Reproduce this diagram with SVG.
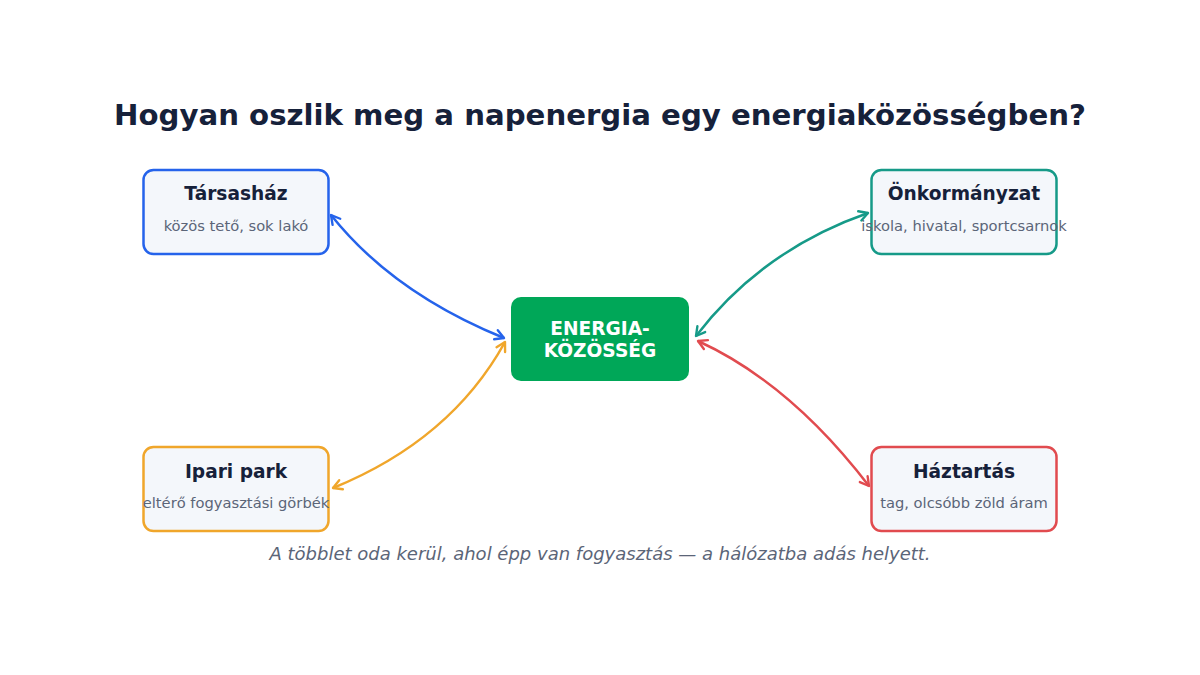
<svg xmlns="http://www.w3.org/2000/svg" width="1200" height="675" viewBox="0 0 1200 675">
<defs>
<style>
.title{font-family:"DejaVu Sans",sans-serif;font-weight:bold;font-size:29.2px;fill:#16213a;text-anchor:middle}
.nt{font-family:"DejaVu Sans",sans-serif;font-weight:bold;font-size:18.6px;fill:#16213a;text-anchor:middle}
.ns{font-family:"DejaVu Sans",sans-serif;font-size:14.7px;fill:#5b6578;text-anchor:middle}
.ct{font-family:"DejaVu Sans",sans-serif;font-weight:bold;font-size:18.6px;fill:#ffffff;text-anchor:middle}
.foot{font-family:"DejaVu Sans",sans-serif;font-style:italic;font-size:18px;fill:#5b6578;text-anchor:middle}
.box{fill:#f4f7fb;stroke-width:2.5}
.con{fill:none;stroke-width:2.5}
</style>
<marker id="mb" viewBox="0 0 12 12" refX="10" refY="6" markerWidth="13" markerHeight="13" markerUnits="userSpaceOnUse" orient="auto-start-reverse"><path d="M2,1.5 L10,6 L2,10.5" fill="none" stroke="#2563eb" stroke-width="2.2" stroke-linecap="round" stroke-linejoin="round"/></marker>
<marker id="mt" viewBox="0 0 12 12" refX="10" refY="6" markerWidth="13" markerHeight="13" markerUnits="userSpaceOnUse" orient="auto-start-reverse"><path d="M2,1.5 L10,6 L2,10.5" fill="none" stroke="#169a88" stroke-width="2.2" stroke-linecap="round" stroke-linejoin="round"/></marker>
<marker id="mo" viewBox="0 0 12 12" refX="10" refY="6" markerWidth="13" markerHeight="13" markerUnits="userSpaceOnUse" orient="auto-start-reverse"><path d="M2,1.5 L10,6 L2,10.5" fill="none" stroke="#f0a62b" stroke-width="2.2" stroke-linecap="round" stroke-linejoin="round"/></marker>
<marker id="mr" viewBox="0 0 12 12" refX="10" refY="6" markerWidth="13" markerHeight="13" markerUnits="userSpaceOnUse" orient="auto-start-reverse"><path d="M2,1.5 L10,6 L2,10.5" fill="none" stroke="#e14b4f" stroke-width="2.2" stroke-linecap="round" stroke-linejoin="round"/></marker>
</defs>
<rect width="1200" height="675" fill="#ffffff"/>
<text class="title" x="600" y="125">Hogyan oszlik meg a napenergia egy energiaközösségben?</text>
<g id="connectors">
<path class="con" stroke="#2563eb" d="M331,215 Q393,293 504,338" marker-start="url(#mb)" marker-end="url(#mb)"/>
<path class="con" stroke="#169a88" d="M696,336 Q762,250 868,213" marker-start="url(#mt)" marker-end="url(#mt)"/>
<path class="con" stroke="#f0a62b" d="M333,488 Q451,440 505,342" marker-start="url(#mo)" marker-end="url(#mo)"/>
<path class="con" stroke="#e14b4f" d="M698,341 Q790,383 869,486" marker-start="url(#mr)" marker-end="url(#mr)"/>
</g>
<g id="center">
<rect x="511" y="297" width="178" height="84" rx="10" fill="#00a758"/>
<text class="ct" x="600" y="335">ENERGIA-</text>
<text class="ct" x="600" y="357">KÖZÖSSÉG</text>
</g>
<g id="tarsashaz">
<rect class="box" x="143.5" y="170" width="185" height="84" rx="10" stroke="#2563eb"/>
<text class="nt" x="236" y="200">Társasház</text>
<text class="ns" x="236" y="231">közös tető, sok lakó</text>
</g>
<g id="onkormanyzat">
<rect class="box" x="871.5" y="170" width="185" height="84" rx="10" stroke="#169a88"/>
<text class="nt" x="964" y="200">Önkormányzat</text>
<text class="ns" x="964" y="231">iskola, hivatal, sportcsarnok</text>
</g>
<g id="ipari-park">
<rect class="box" x="143.5" y="447" width="185" height="84" rx="10" stroke="#f0a62b"/>
<text class="nt" x="236" y="478">Ipari park</text>
<text class="ns" x="236" y="508">eltérő fogyasztási görbék</text>
</g>
<g id="haztartas">
<rect class="box" x="871.5" y="447" width="185" height="84" rx="10" stroke="#e14b4f"/>
<text class="nt" x="964" y="478">Háztartás</text>
<text class="ns" x="964" y="508">tag, olcsóbb zöld áram</text>
</g>
<text class="foot" x="600" y="560">A többlet oda kerül, ahol épp van fogyasztás — a hálózatba adás helyett.</text>
</svg>
